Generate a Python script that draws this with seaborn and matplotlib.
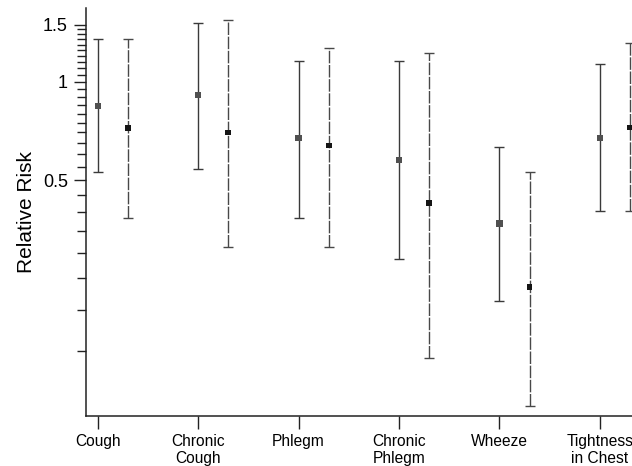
import numpy as np
import pandas as pd
import matplotlib
matplotlib.use("Agg")
import matplotlib.pyplot as plt
from matplotlib.ticker import FixedLocator, NullLocator, FuncFormatter
import seaborn as sns

# ---- data ----
categories = ["Cough", "Chronic\nCough", "Phlegm", "Chronic\nPhlegm", "Wheeze", "Tightness\nin Chest"]
solid_rr = [0.842, 0.912, 0.674, 0.576, 0.368, 0.674]
solid_lo = [0.530, 0.541, 0.384, 0.286, 0.213, 0.403]
solid_hi = [1.351, 1.516, 1.160, 1.160, 0.632, 1.139]
dashed_rr = [0.723, 0.700, 0.639, 0.426, 0.235, 0.725]
dashed_lo = [0.384, 0.312, 0.312, 0.142, 0.1015, 0.403]
dashed_hi = [1.351, 1.545, 1.271, 1.230, 0.529, 1.317]
major_ticks = [0.5, 1, 1.5]
major_labels = ["0.5", "1", "1.5"]
minor_ticks = [0.15, 0.2, 0.25, 0.3, 0.35, 0.4, 0.45,
               0.55, 0.6, 0.65, 0.7, 0.75, 0.8, 0.85, 0.9, 0.95,
               1.05, 1.1, 1.15, 1.2, 1.25, 1.3, 1.35, 1.4, 1.45]

sns.set_theme(style="ticks")
plt.rcParams["font.family"] = ["Liberation Sans", "DejaVu Sans"]
plt.rcParams["lines.scale_dashes"] = False

df = pd.DataFrame({
    "cat": list(range(len(categories))) * 2,
    "group": ["solid"] * len(categories) + ["dashed"] * len(categories),
    "rr": solid_rr + dashed_rr,
    "lo": solid_lo + dashed_lo,
    "hi": solid_hi + dashed_hi,
})
offset = {"solid": 0.0, "dashed": 0.3}
df["x"] = df["cat"] + df["group"].map(offset)

fig = plt.figure(figsize=(6.32, 4.66), dpi=100)
ax = fig.add_axes([86 / 632, 50.3 / 466, 0.8768, 407.4 / 466])

styles = {
    "solid": dict(ecolor="#3a3a3a", mcolor="#505050", ls="-", s=20),
    "dashed": dict(ecolor="#484848", mcolor="#151515", ls=(0, (9, 1.2)), s=17),
}
for g, st in styles.items():
    sub = df[df["group"] == g]
    eb = ax.errorbar(sub["x"], sub["rr"],
                     yerr=[sub["rr"] - sub["lo"], sub["hi"] - sub["rr"]],
                     fmt="none", ecolor=st["ecolor"], elinewidth=1.0,
                     capsize=3.6, capthick=1.0, zorder=2)
    eb[2][0].set_linestyle(st["ls"])

sns.scatterplot(data=df, x="x", y="rr", hue="group", size="group",
                palette={g: st["mcolor"] for g, st in styles.items()},
                sizes={g: st["s"] for g, st in styles.items()},
                marker="s", linewidth=0, legend=False, ax=ax, zorder=3)

ax.set_yscale("log")
ax.set_ylim(0.0948, 1.682)
ax.set_xlim(-0.116, 5.4)

all_ticks = sorted(major_ticks + minor_ticks)
label_map = dict(zip(major_ticks, major_labels))
ax.yaxis.set_major_locator(FixedLocator(all_ticks))
ax.yaxis.set_major_formatter(FuncFormatter(
    lambda v, p: next((lab for mv, lab in label_map.items() if abs(mv - v) < 1e-9), "")))
ax.yaxis.set_minor_locator(NullLocator())

ax.set_xticks(range(len(categories)))
ax.set_xticklabels(categories, fontsize=11.2, linespacing=1.15)
ax.tick_params(axis="x", length=9, width=1, color="#222222", pad=4, labelcolor="black")
ax.tick_params(axis="y", which="major", length=9, width=1, color="#222222", pad=4,
               labelsize=13, labelcolor="black")

ticks = ax.yaxis.get_major_ticks(len(all_ticks))
for t, v in zip(ticks, all_ticks):
    if v not in major_ticks:
        t.tick1line.set_markersize(6.5)

ax.set_xlabel("")
ax.set_ylabel("Relative Risk", fontsize=15, labelpad=5, color="black")

for s in ["top", "right"]:
    ax.spines[s].set_visible(False)
for s in ["left", "bottom"]:
    ax.spines[s].set_linewidth(1.1)
    ax.spines[s].set_color("#222222")

fig.savefig("out.png", dpi=100)
